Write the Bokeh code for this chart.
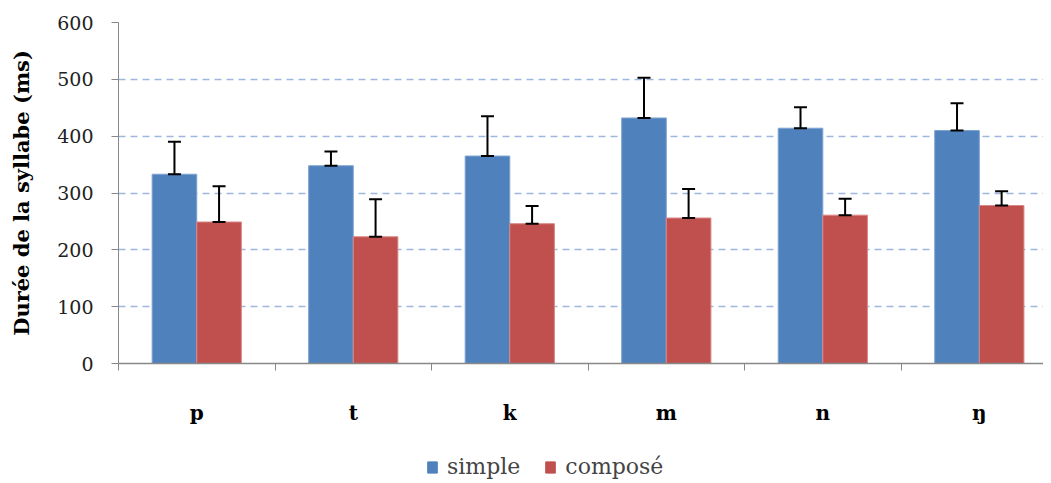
from bokeh.plotting import figure
from bokeh.layouts import column
from bokeh.models import (ColumnDataSource, FixedTicker, Legend, LegendItem,
                          Whisker, TeeHead, Range1d)
from bokeh.embed import file_html
from bokeh.resources import INLINE

categories = ["p", "t", "k", "m", "n", "ŋ"]
series = ["simple", "composé"]
simple = [333, 348, 365, 432, 414, 410]
simple_err = [57, 25, 70, 71, 37, 48]
compose = [249, 223, 246, 256, 261, 278]
compose_err = [63, 66, 31, 51, 29, 25]
y_ticks = [0, 100, 200, 300, 400, 500, 600]

BLUE = "#4F81BD"
RED = "#C0504D"
SERIF = "DejaVu Serif"

bw = 0.285
centers = [i + 0.5 for i in range(len(categories))]
xs = [c - bw / 2 for c in centers]
xc = [c + bw / 2 for c in centers]

src_s = ColumnDataSource(dict(x=xs, top=simple,
                              upper=[v + e for v, e in zip(simple, simple_err)]))
src_c = ColumnDataSource(dict(x=xc, top=compose,
                              upper=[v + e for v, e in zip(compose, compose_err)]))

p = figure(width=1043, height=443, output_backend="svg",
           toolbar_location=None,
           x_range=Range1d(0, 5.91), y_range=Range1d(0, 600),
           min_border_left=118, min_border_top=22, min_border_right=0,
           min_border_bottom=80)
p.outline_line_color = None
p.background_fill_color = "white"

r_s = p.vbar(x="x", top="top", width=bw, bottom=0, source=src_s,
             fill_color=BLUE, line_color="#7FA3D0", line_width=1)
r_c = p.vbar(x="x", top="top", width=bw, bottom=0, source=src_c,
             fill_color=RED, line_color="#D98886", line_width=1)

for src in (src_s, src_c):
    w = Whisker(base="x", lower="top", upper="upper", source=src,
                line_color="black", line_width=2, level="overlay",
                upper_head=TeeHead(size=13, line_color="black", line_width=2),
                lower_head=TeeHead(size=13, line_color="black", line_width=2))
    p.add_layout(w)

# grid
p.xgrid.grid_line_color = None
p.ygrid.ticker = FixedTicker(ticks=y_ticks)
p.ygrid.grid_line_color = "#9DB8DC"
p.ygrid.grid_line_dash = "7 5"
p.ygrid.grid_line_width = 1.5

# y axis
ya = p.yaxis[0]
ya.ticker = FixedTicker(ticks=y_ticks)
ya.axis_line_color = "#888888"
ya.major_tick_line_color = "#888888"
ya.major_tick_out = 7
ya.major_tick_in = 0
ya.minor_tick_line_color = None
ya.major_label_standoff = 18
ya.major_label_text_font = SERIF
ya.major_label_text_font_size = "19px"
ya.major_label_text_color = "#222222"
ya.axis_label = "Durée de la syllabe (ms)"
ya.axis_label_text_font = SERIF
ya.axis_label_text_font_style = "bold"
ya.axis_label_text_font_size = "21px"
ya.axis_label_text_color = "black"
ya.axis_label_standoff = 20

# x axis
xa = p.xaxis[0]
xa.ticker = FixedTicker(ticks=centers, minor_ticks=list(range(len(categories))))
xa.major_label_overrides = {c: lab for c, lab in zip(centers, categories)}
xa.axis_line_color = "#888888"
xa.axis_line_width = 1.5
xa.major_tick_line_color = None
xa.major_tick_out = 0
xa.major_tick_in = 0
xa.minor_tick_line_color = "#888888"
xa.minor_tick_out = 7
xa.minor_tick_in = 0
xa.major_label_standoff = 30
xa.major_label_text_font = SERIF
xa.major_label_text_font_style = "bold"
xa.major_label_text_font_size = "20px"
xa.major_label_text_color = "black"

# legend strip below the chart (its proxy bars lie outside the visible range)
p2 = figure(width=1043, height=40, output_backend="svg", toolbar_location=None,
            x_range=Range1d(0, 1), y_range=Range1d(0, 1),
            x_axis_location=None, y_axis_location=None,
            min_border=0)
p2.grid.visible = False
p2.outline_line_color = None
l_s = p2.vbar(x=[0.5], top=[-5], bottom=[-6], width=0.1,
              fill_color=BLUE, line_color=BLUE)
l_c = p2.vbar(x=[0.5], top=[-5], bottom=[-6], width=0.1,
              fill_color=RED, line_color=RED)
legend = Legend(items=[LegendItem(label=series[0], renderers=[l_s]),
                       LegendItem(label=series[1], renderers=[l_c])],
                orientation="horizontal", location=(308, 4),
                label_text_font=SERIF, label_text_font_size="22px",
                glyph_width=12, glyph_height=14, spacing=24,
                label_standoff=9, border_line_color=None,
                background_fill_alpha=0, margin=0, padding=4)
p2.add_layout(legend, "center")

open("out.html", "w").write(file_html(column(p, p2, spacing=0), INLINE))
